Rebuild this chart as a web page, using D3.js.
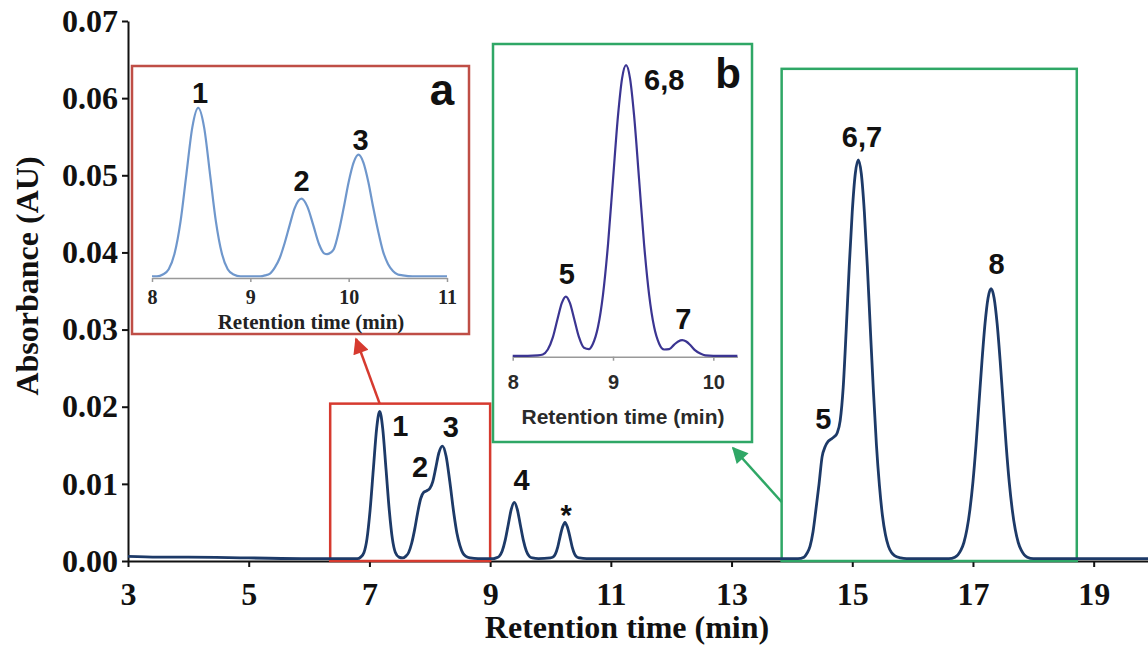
<!DOCTYPE html>
<html lang="en">
<head>
  <meta charset="utf-8">
  <title>Chromatogram</title>
  <script src="https://cdnjs.cloudflare.com/ajax/libs/d3/7.8.5/d3.min.js"></script>
  <style>
    body { margin: 0; background: #fff; }
    .serif { font-family: "Liberation Serif", "Times New Roman", serif; font-weight: bold; }
    .sans { font-family: "Liberation Sans", Arial, sans-serif; font-weight: bold; }
  </style>
</head>
<body>
<div id="chart"></div>
<script>
// main chromatogram (retention time in min, absorbance in AU)
const mainTime = [3.0, 3.5, 4.0, 5.0, 6.0, 6.6, 6.8,
  6.855, 6.91, 6.96, 7.01, 7.065, 7.12, 7.17, 7.22, 7.275, 7.33, 7.38, 7.43, 7.49, 7.55,
  7.60, 7.65, 7.70, 7.75, 7.80, 7.85, 7.90, 7.95, 8.00, 8.05, 8.10, 8.15, 8.21, 8.27, 8.33, 8.40, 8.45, 8.50, 8.55, 8.60, 8.67, 8.80,
  9.05, 9.10, 9.15, 9.20, 9.25, 9.30, 9.35, 9.40, 9.45, 9.50, 9.55, 9.60, 9.65, 9.70, 9.80,
  10.00, 10.04, 10.08, 10.12, 10.16, 10.20, 10.24, 10.28, 10.32, 10.36, 10.40, 10.44, 10.48, 10.60,
  11.5, 12.5, 13.5, 14.0, 14.1,
  14.20, 14.25, 14.30, 14.35, 14.40, 14.45, 14.50, 14.55, 14.60, 14.65, 14.70, 14.75, 14.80, 14.85, 14.90, 14.95,
  15.00, 15.05, 15.10, 15.15, 15.20, 15.25, 15.30, 15.35, 15.40, 15.45, 15.50, 15.55, 15.60, 15.65, 15.70, 15.80, 15.90,
  16.3, 16.6,
  16.70, 16.75, 16.80, 16.85, 16.90, 16.95, 17.00, 17.05, 17.10, 17.15, 17.20, 17.25, 17.30, 17.35, 17.40, 17.45,
  17.50, 17.55, 17.60, 17.65, 17.70, 17.75, 17.80, 17.85, 17.90, 18.00,
  18.5, 19.0, 19.5, 19.9];
const mainAbs = [0.0006, 0.0005, 0.0005, 0.0004, 0.0003, 0.0003, 0.0003,
  0.0005, 0.0011, 0.0029, 0.0065, 0.0119, 0.0172, 0.0194, 0.0172, 0.0119, 0.0065, 0.0029, 0.0011, 0.0005, 0.0004,
  0.0006, 0.0011, 0.0023, 0.0041, 0.0063, 0.0081, 0.0089, 0.0091, 0.0094, 0.0103, 0.0121, 0.0140, 0.0149, 0.0136, 0.0104, 0.0061, 0.0036, 0.0020, 0.0010, 0.0006, 0.0004, 0.0003,
  0.0003, 0.0004, 0.0006, 0.0013, 0.0027, 0.0047, 0.0067, 0.0076, 0.0067, 0.0047, 0.0027, 0.0013, 0.0006, 0.0004, 0.0003,
  0.0004, 0.0005, 0.0009, 0.0018, 0.0032, 0.0044, 0.0050, 0.0044, 0.0032, 0.0018, 0.0009, 0.0005, 0.0004, 0.0003,
  0.0003, 0.0003, 0.0003, 0.0003, 0.0003,
  0.0005, 0.0010, 0.0019, 0.0038, 0.0068, 0.0100, 0.0135, 0.0148, 0.0155, 0.0158, 0.0161, 0.0166, 0.0182, 0.0225, 0.0300, 0.0382,
  0.0453, 0.0502, 0.0520, 0.0502, 0.0453, 0.0382, 0.0300, 0.0221, 0.0151, 0.0098, 0.0059, 0.0034, 0.0019, 0.0011, 0.0007, 0.0004, 0.0003,
  0.0003, 0.0003,
  0.0005, 0.0008, 0.0014, 0.0024, 0.0041, 0.0067, 0.0103, 0.0150, 0.0205, 0.0260, 0.0308, 0.0341, 0.0353, 0.0341, 0.0308, 0.0260,
  0.0205, 0.0150, 0.0103, 0.0067, 0.0041, 0.0024, 0.0014, 0.0008, 0.0005, 0.0003,
  0.0003, 0.0003, 0.0003, 0.0003];

// inset a (zoom of peaks 1-3)
const insetATime = [8.00, 8.05, 8.11, 8.17, 8.23, 8.29, 8.35, 8.41, 8.47, 8.53, 8.59, 8.65, 8.71, 8.77, 8.83, 8.90,
  9.10, 9.15, 9.20, 9.25, 9.30, 9.35, 9.40, 9.45, 9.52, 9.58, 9.64, 9.70, 9.75, 9.78, 9.82, 9.85, 9.90, 9.95,
  10.00, 10.05, 10.10, 10.15, 10.20, 10.25, 10.30, 10.35, 10.40, 10.45, 10.50, 10.55, 10.65, 11.00];
const insetAAbs = [0.0002, 0.0002, 0.0004, 0.0010, 0.0028, 0.0064, 0.0118, 0.0171, 0.0193, 0.0171, 0.0118, 0.0064, 0.0028, 0.0010, 0.0004, 0.0002,
  0.0002, 0.0003, 0.0005, 0.0012, 0.0023, 0.0040, 0.0060, 0.0079, 0.0090, 0.0081, 0.0060, 0.0038, 0.0028, 0.0027, 0.0029, 0.0033, 0.0053, 0.0080,
  0.0109, 0.0131, 0.0140, 0.0131, 0.0109, 0.0080, 0.0053, 0.0030, 0.0016, 0.0008, 0.0004, 0.0003, 0.0002, 0.0002];

// inset b (zoom of peaks 5-8)
const insetBTime = [8.00, 8.15, 8.25, 8.30, 8.35, 8.40, 8.45, 8.49, 8.53, 8.57, 8.61, 8.66, 8.71, 8.76, 8.80, 8.85,
  8.90, 8.95, 9.00, 9.05, 9.09, 9.13, 9.17, 9.21, 9.26, 9.31, 9.36, 9.41, 9.46, 9.51, 9.56, 9.61, 9.65, 9.69,
  9.73, 9.77, 9.82, 9.87, 9.92, 10.00, 10.24];
const insetBAbs = [0.0002, 0.0002, 0.0003, 0.0005, 0.0016, 0.0043, 0.0087, 0.0120, 0.0134, 0.0120, 0.0087, 0.0044, 0.0020, 0.0017, 0.0029, 0.0066,
  0.0138, 0.0250, 0.0395, 0.0538, 0.0620, 0.0650, 0.0620, 0.0538, 0.0395, 0.0250, 0.0138, 0.0066, 0.0029, 0.0016, 0.0017, 0.0027, 0.0034, 0.0037,
  0.0034, 0.0026, 0.0014, 0.0007, 0.0003, 0.0002, 0.0002];

// ticks
const mainXTicks = [3, 5, 7, 9, 11, 13, 15, 17, 19];
const mainYTicks = [0, 0.01, 0.02, 0.03, 0.04, 0.05, 0.06, 0.07];
const insetAXTicks = [8, 9, 10, 11];
const insetBXTicks = [8, 9, 10];

// peak labels (placed in data units of each panel)
const mainLabels = ["1", "2", "3", "4", "*", "5", "6,7", "8"];
const mainLabelTime = [7.51, 7.84, 8.35, 9.52, 10.26, 14.52, 15.16, 17.39];
const mainLabelAbs = [0.0176, 0.0122, 0.0174, 0.0105, 0.0070, 0.0185, 0.0550, 0.0386];
const insetALabels = ["1", "2", "3"];
const insetALabelTime = [8.49, 9.52, 10.12];
const insetALabelAbs = [0.0211, 0.0111, 0.0157];
const insetBLabels = ["5", "6,8", "7"];
const insetBLabelTime = [8.54, 9.51, 9.70];
const insetBLabelAbs = [0.0186, 0.0617, 0.0086];

// zoom regions marked on the main trace
const boxA = {t0: 6.35, t1: 9.0, top: 0.0204};
const boxB = {t0: 13.83, t1: 18.72, top: 0.0638};

const W = 1148, H = 646;
const svg = d3.select("#chart").append("svg").attr("width", W).attr("height", H);

const x = d3.scaleLinear().domain([3, 19.9]).range([128, 1148]);
const y = d3.scaleLinear().domain([0, 0.07]).range([561, 21]);

// arrow heads
const defs = svg.append("defs");
[["arRed", "#d63a2f"], ["arGreen", "#2fa766"]].forEach(([id, c]) => {
  defs.append("marker").attr("id", id)
    .attr("viewBox", "0 0 10 10").attr("refX", 9).attr("refY", 5)
    .attr("markerUnits", "userSpaceOnUse")
    .attr("markerWidth", 18).attr("markerHeight", 16).attr("orient", "auto")
    .append("path").attr("d", "M0,0 L10,5 L0,10 z").attr("fill", c);
});

// axes
const xAxis = svg.append("g").attr("class", "serif")
  .attr("transform", "translate(0," + y(0) + ")")
  .call(d3.axisBottom(x).tickValues(mainXTicks).tickFormat(d3.format("d")).tickSize(6).tickSizeOuter(0).tickPadding(15));
const yAxis = svg.append("g").attr("class", "serif")
  .attr("transform", "translate(" + x(3) + ",0)")
  .call(d3.axisLeft(y).tickValues(mainYTicks).tickFormat(d3.format(".2f")).tickSize(6).tickSizeOuter(0).tickPadding(4));
[xAxis, yAxis].forEach(g => {
  g.attr("font-size", 32).attr("font-family", null);
  g.selectAll("path, line").attr("stroke", "#111").attr("stroke-width", 2);
  g.selectAll("text").attr("fill", "#111");
});

svg.append("text").attr("class", "serif")
  .attr("x", 627).attr("y", 638).attr("text-anchor", "middle")
  .attr("font-size", 32).attr("fill", "#111")
  .text("Retention time (min)");
svg.append("text").attr("class", "serif")
  .attr("transform", "translate(38,276) rotate(-90)").attr("text-anchor", "middle")
  .attr("font-size", 32).attr("fill", "#111")
  .text("Absorbance (AU)");

// zoom boxes on main plot
svg.append("rect")
  .attr("x", x(boxA.t0)).attr("y", y(boxA.top))
  .attr("width", x(boxA.t1) - x(boxA.t0)).attr("height", y(0) - y(boxA.top))
  .attr("fill", "none").attr("stroke", "#d63a2f").attr("stroke-width", 2.5);
svg.append("rect")
  .attr("x", x(boxB.t0)).attr("y", y(boxB.top))
  .attr("width", x(boxB.t1) - x(boxB.t0)).attr("height", y(0) - y(boxB.top))
  .attr("fill", "none").attr("stroke", "#2fa766").attr("stroke-width", 2.5);

// main trace
const mainLine = d3.line().x(d => x(d[0])).y(d => y(d[1])).curve(d3.curveMonotoneX);
svg.append("path").datum(d3.zip(mainTime, mainAbs))
  .attr("d", mainLine).attr("fill", "none")
  .attr("stroke", "#1d3a68").attr("stroke-width", 2.8);

svg.append("g").attr("class", "sans").selectAll("text")
  .data(d3.zip(mainLabels, mainLabelTime, mainLabelAbs)).join("text")
  .attr("x", d => x(d[1])).attr("y", d => y(d[2]))
  .attr("dy", d => d[0] === "*" ? "0.62em" : "0.36em")
  .attr("text-anchor", "middle").attr("font-size", 29).attr("fill", "#111")
  .text(d => d[0]);

// inset a
const ax = d3.scaleLinear().domain([8, 11]).range([152, 447]);
const ay = d3.scaleLinear().domain([0, 0.02]).range([278, 101.8]);
svg.append("rect").attr("x", 132).attr("y", 66).attr("width", 337).attr("height", 268)
  .attr("fill", "#fff").attr("stroke", "#bf4e46").attr("stroke-width", 2.5);
const aAxis = svg.append("g").attr("class", "serif")
  .attr("transform", "translate(0," + ay(0) + ")")
  .call(d3.axisBottom(ax).tickValues(insetAXTicks).tickFormat(d3.format("d")).tickSize(4).tickSizeOuter(0).tickPadding(8));
aAxis.attr("font-size", 20).attr("font-family", null);
aAxis.selectAll("path, line").attr("stroke", "#999").attr("stroke-width", 1.5);
aAxis.selectAll("text").attr("fill", "#222");
svg.append("text").attr("class", "serif")
  .attr("x", 311).attr("y", 329).attr("text-anchor", "middle")
  .attr("font-size", 21).attr("fill", "#222").text("Retention time (min)");
svg.append("path").datum(d3.zip(insetATime, insetAAbs))
  .attr("d", d3.line().x(d => ax(d[0])).y(d => ay(d[1])).curve(d3.curveMonotoneX))
  .attr("fill", "none").attr("stroke", "#6f97cc").attr("stroke-width", 2.2);
svg.append("g").attr("class", "sans").selectAll("text")
  .data(d3.zip(insetALabels, insetALabelTime, insetALabelAbs)).join("text")
  .attr("x", d => ax(d[1])).attr("y", d => ay(d[2])).attr("dy", "0.36em")
  .attr("text-anchor", "middle").attr("font-size", 29).attr("fill", "#111")
  .text(d => d[0]);
svg.append("text").attr("class", "sans")
  .attr("x", 442).attr("y", 105).attr("text-anchor", "middle")
  .attr("font-size", 44).attr("fill", "#111").text("a");

// inset b
const bx = d3.scaleLinear().domain([8, 10.24]).range([512.7, 737.4]);
const by = d3.scaleLinear().domain([0, 0.07]).range([356.7, 42.7]);
svg.append("rect").attr("x", 493).attr("y", 44).attr("width", 259).attr("height", 398)
  .attr("fill", "#fff").attr("stroke", "#2fa766").attr("stroke-width", 2.5);
const bAxis = svg.append("g").attr("class", "sans")
  .attr("transform", "translate(0," + by(0) + ")")
  .call(d3.axisBottom(bx).tickValues(insetBXTicks).tickFormat(d3.format("d")).tickSize(4).tickSizeOuter(0).tickPadding(14));
bAxis.attr("font-size", 20).attr("font-family", null);
bAxis.selectAll("path, line").attr("stroke", "#999").attr("stroke-width", 1.5);
bAxis.selectAll("text").attr("fill", "#2a2a2a");
svg.append("text").attr("class", "sans")
  .attr("x", 623).attr("y", 424).attr("text-anchor", "middle")
  .attr("font-size", 21).attr("fill", "#2a2a2a").text("Retention time (min)");
svg.append("path").datum(d3.zip(insetBTime, insetBAbs))
  .attr("d", d3.line().x(d => bx(d[0])).y(d => by(d[1])).curve(d3.curveMonotoneX))
  .attr("fill", "none").attr("stroke", "#3b3592").attr("stroke-width", 2.2);
svg.append("g").attr("class", "sans").selectAll("text")
  .data(d3.zip(insetBLabels, insetBLabelTime, insetBLabelAbs)).join("text")
  .attr("x", d => bx(d[1])).attr("y", d => by(d[2])).attr("dy", "0.36em")
  .attr("text-anchor", "middle").attr("font-size", 29).attr("fill", "#111")
  .text(d => d[0]);
svg.append("text").attr("class", "sans")
  .attr("x", 728).attr("y", 88).attr("text-anchor", "middle")
  .attr("font-size", 42).attr("fill", "#111").text("b");

// arrows from zoom boxes to insets
svg.append("line").attr("x1", x(7.17)).attr("y1", y(boxA.top)).attr("x2", 356).attr("y2", 339)
  .attr("stroke", "#d63a2f").attr("stroke-width", 2.5).attr("marker-end", "url(#arRed)");
svg.append("line").attr("x1", x(boxB.t0)).attr("y1", 502).attr("x2", 733).attr("y2", 448)
  .attr("stroke", "#2fa766").attr("stroke-width", 2.5).attr("marker-end", "url(#arGreen)");
</script>
</body>
</html>
